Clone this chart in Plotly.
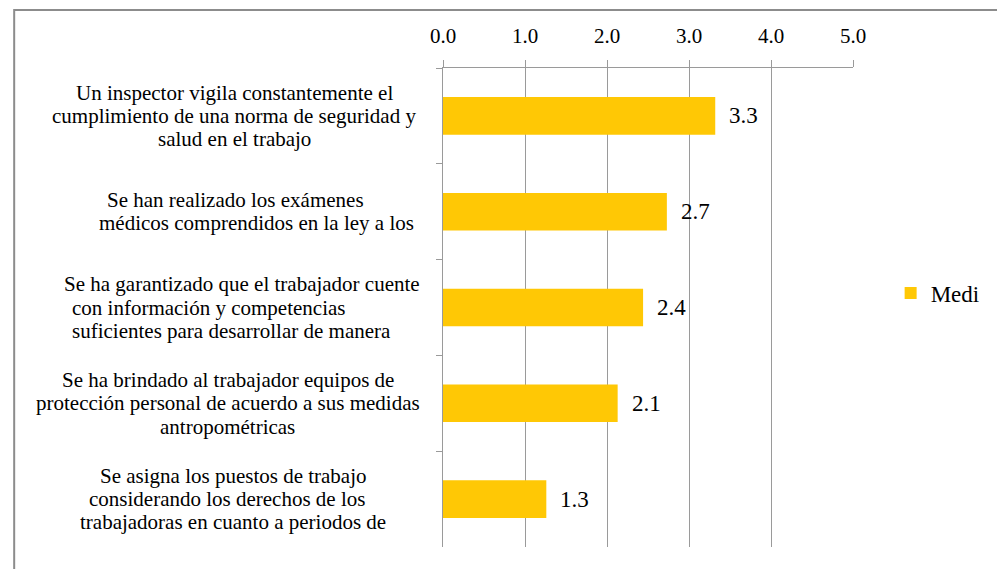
import plotly.graph_objects as go

# ---- data ----
categories = [
    "Un inspector vigila constantemente el\ncumplimiento de una norma de seguridad y\nsalud en el trabajo",
    "Se han realizado los exámenes\nmédicos comprendidos en la ley a los",
    "Se ha garantizado que el trabajador cuente\ncon información y competencias\nsuficientes para desarrollar de manera",
    "Se ha brindado al trabajador equipos de\nprotección personal de acuerdo a sus medidas\nantropométricas",
    "Se asigna los puestos de trabajo\nconsiderando los derechos de los\ntrabajadoras en cuanto a periodos de",
]
values = [3.32, 2.73, 2.44, 2.13, 1.26]
series_name = "Medi"
x_ticks = [0, 1, 2, 3, 4, 5]

# ---- layout constants ----
W, H = 997, 569
PL, PR, PT, PB = 443, 857, 68, 547   # plot area in page pixels
FONT = "Liberation Serif"
GRID = "#9a9a9a"
BAR = "#FFC805"


def xp(px):
    return (px - PL) / (PR - PL)


def yp(py):
    return (PB - py) / (PB - PT)


LINE_CX = [[232, 232, 232], [233, 255], [240, 206, 229], [226, 226, 225], [231, 225, 231]]
LINE_PITCH = 23.3

fig = go.Figure()
fig.add_trace(go.Bar(
    x=values, y=categories, orientation="h", name=series_name,
    marker=dict(color=BAR, line=dict(width=0)), showlegend=True,
))

annotations = []
for i, cat in enumerate(categories):
    lines = cat.split("\n")
    n = len(lines)
    for j, ln in enumerate(lines):
        annotations.append(dict(
            x=xp(LINE_CX[i][j]), xref="paper", y=cat, yref="y",
            text=ln, showarrow=False, xanchor="center", yanchor="middle",
            yshift=((n - 1) / 2 - j) * LINE_PITCH,
            font=dict(size=21, color="black", family=FONT),
        ))
    annotations.append(dict(
        x=values[i], xref="x", y=cat, yref="y", text=f"{values[i]:.1f}",
        showarrow=False, xanchor="left", yanchor="middle", xshift=12,
        font=dict(size=23, color="black", family=FONT),
    ))

fig.update_layout(
    width=W, height=H,
    margin=dict(l=PL, r=W - PR, t=PT, b=H - PB, pad=0),
    paper_bgcolor="white", plot_bgcolor="white",
    font=dict(family=FONT, color="black"),
    bargap=0.607,
    xaxis=dict(
        side="top", range=[0, 5], tickvals=x_ticks, tickformat=".1f",
        showgrid=True, gridcolor=GRID, gridwidth=1.3, zeroline=False,
        showline=True, linecolor=GRID, linewidth=1.3,
        ticks="outside", ticklen=7, tickcolor=GRID, tickwidth=1.3,
        tickfont=dict(size=21, family=FONT, color="black"),
        ticklabelstandoff=8, fixedrange=True,
    ),
    yaxis=dict(
        type="category", categoryorder="array", categoryarray=categories,
        range=[len(categories) - 0.5, -0.5],
        showticklabels=False, showgrid=False, zeroline=False,
        showline=True, linecolor=GRID, linewidth=1.3,
        ticks="outside", tickson="boundaries", ticklen=6, tickcolor=GRID, tickwidth=1.3,
        fixedrange=True,
    ),
    legend=dict(
        x=xp(895), xref="paper", xanchor="left", y=yp(293), yanchor="middle",
        font=dict(size=23, family=FONT, color="black"), bgcolor="rgba(0,0,0,0)",
        itemwidth=30,
    ),
    annotations=annotations,
    shapes=[dict(
        type="rect", xref="paper", yref="paper",
        x0=xp(10), x1=xp(1010), y0=yp(10), y1=yp(590),
        line=dict(color="#8c8c8c", width=2), fillcolor="rgba(0,0,0,0)", layer="below",
    )],
)

fig.write_html(
    "out.html",
    config={"displayModeBar": False},
    post_script="document.body.style.margin='0';document.body.style.overflow='hidden';",
)
